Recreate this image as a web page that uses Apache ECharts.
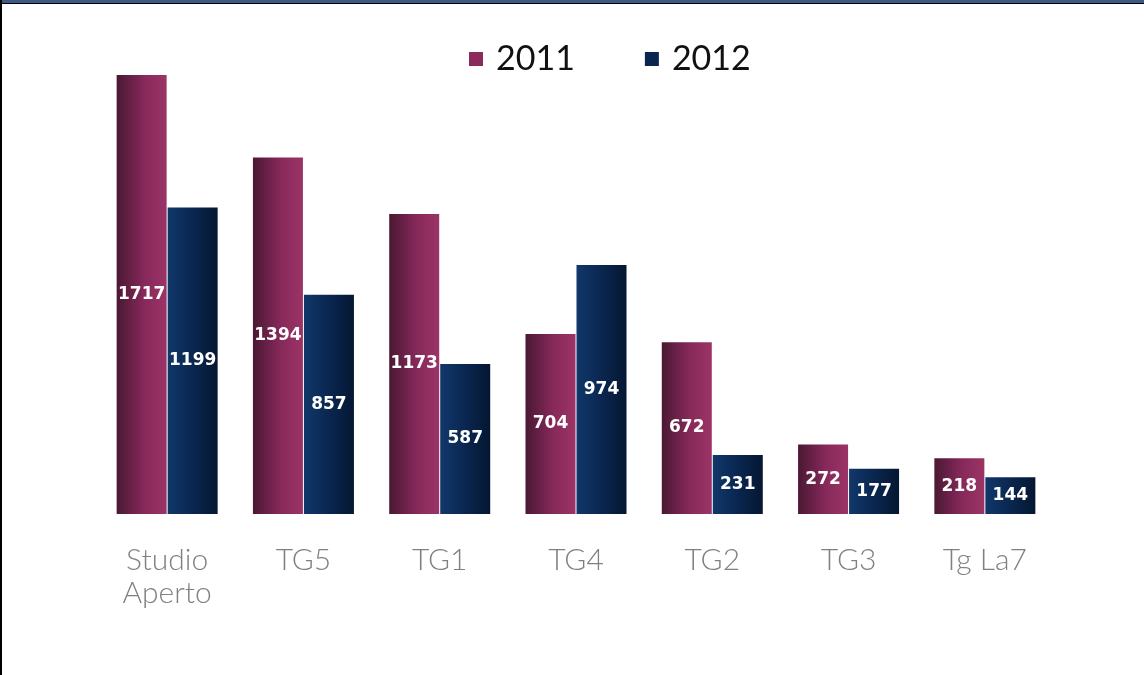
<!DOCTYPE html>
<html>
<head>
<meta charset="utf-8">
<script src="https://cdn.jsdelivr.net/npm/echarts@6/dist/echarts.min.js"></script>
<style>
html,body{margin:0;padding:0;background:#fff;}
#wrap{position:relative;width:1144px;height:675px;}
#topbar{position:absolute;left:0;top:0;width:1144px;height:3px;background:#3d5a85;}
#topline{position:absolute;left:0;top:3px;width:1144px;height:1px;background:#000;}
#leftline{position:absolute;left:0;top:0;width:2px;height:675px;background:#000;}
#chart{position:absolute;left:0;top:0;width:1144px;height:675px;}
</style>
</head>
<body>
<div id="wrap">
<div id="chart"></div>
<div id="topbar"></div>
<div id="topline"></div>
<div id="leftline"></div>
</div>
<script>
const categories = ['Studio\nAperto', 'TG5', 'TG1', 'TG4', 'TG2', 'TG3', 'Tg La7'];
const values2011 = [1717, 1394, 1173, 704, 672, 272, 218];
const values2012 = [1199, 857, 587, 974, 231, 177, 144];

const grad2011 = new echarts.graphic.LinearGradient(0, 0, 1, 0, [
  {offset: 0, color: '#4a1833'},
  {offset: 0.55, color: '#86295a'},
  {offset: 1, color: '#9c3466'}
]);
const grad2012 = new echarts.graphic.LinearGradient(0, 0, 1, 0, [
  {offset: 0, color: '#10386a'},
  {offset: 0.5, color: '#0a2650'},
  {offset: 1, color: '#051731'}
]);

const labelStyle = {
  show: true,
  position: 'inside',
  color: '#ffffff',
  fontFamily: 'DejaVu Sans',
  fontWeight: 'bold',
  fontSize: 17
};

const chart = echarts.init(document.getElementById('chart'), null, {renderer: 'canvas'});
chart.setOption({
  animation: false,
  backgroundColor: '#ffffff',
  legend: {
    top: 37,
    left: 464,
    itemWidth: 14,
    itemHeight: 14,
    itemGap: 70,
    icon: 'rect',
    textStyle: {fontSize: 34, color: '#111', fontFamily: 'Lato', padding: [0, 0, 0, 8]},
    data: [
      {name: '2011', itemStyle: {color: '#8a2b5c'}},
      {name: '2012', itemStyle: {color: '#0a2650'}}
    ]
  },
  grid: {left: 99, right: 91, top: 53.7, bottom: 161, containLabel: false},
  xAxis: {
    type: 'category',
    data: categories,
    axisLine: {show: false},
    axisTick: {show: false},
    axisLabel: {
      color: '#808080',
      fontSize: 30,
      fontFamily: 'Lato',
      fontWeight: 300,
      lineHeight: 33,
      margin: 30,
      interval: 0
    }
  },
  yAxis: {
    type: 'value',
    min: 0,
    max: 1800,
    show: false,
    splitLine: {show: false}
  },
  series: [
    {
      name: '2011',
      type: 'bar',
      data: values2011,
      barWidth: 50,
      barGap: '2%',
      itemStyle: {color: grad2011},
      label: labelStyle
    },
    {
      name: '2012',
      type: 'bar',
      data: values2012,
      barWidth: 50,
      itemStyle: {color: grad2012},
      label: labelStyle
    }
  ]
});
</script>
</body>
</html>
